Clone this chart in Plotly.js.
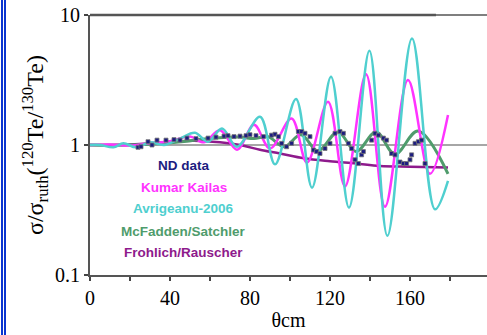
<!DOCTYPE html>
<html>
<head>
<meta charset="utf-8">
<script src="https://cdn.plot.ly/plotly-3.0.1.min.js"></script>
<style>
html,body{margin:0;padding:0;background:#fff;}
#wrap{position:relative;width:487px;height:335px;overflow:hidden;}
#chart{position:absolute;left:0;top:0;width:487px;height:335px;}
.bl{position:absolute;top:0;width:2px;height:335px;background:#0a35d0;}
</style>
</head>
<body>
<div id="wrap">
<div id="chart"></div>
<div class="bl" style="left:1px"></div>
<div class="bl" style="left:4px"></div>
</div>
<script>
// Avrigeanu-2006
const avrX = [0,5,11.7,16.7,23,30,37,45,52.5,59,66,73.5,85,92.5,103,111,120.5,129.5,139.7,148.7,161,172.5,179];
const avrY = [1.0,1.0,0.96,1.03,0.96,1.05,1.0,1.12,1.24,1.06,1.34,0.97,1.65,0.71,2.26,0.47,3.35,0.33,5.3,0.2,6.6,0.32,0.53];
// Kumar Kailas
const kumX = [0,10,20,30,40,50,57,65,73.5,82,90,100.8,108.5,119,127.5,138,147.5,159,170,179];
const kumY = [1.0,1.01,0.99,1.03,1.07,1.16,1.05,1.30,0.92,1.43,0.94,1.6,0.73,2.15,0.48,3.5,0.335,3.16,0.6,1.7];
// McFadden/Satchler
const mcfX = [0,20,40,60,75,82,89,97,105.5,114,124,133,143,152.5,164,179];
const mcfY = [1.0,1.0,1.04,1.12,1.15,1.12,1.16,0.97,1.2,0.9,1.26,0.89,1.26,0.85,1.28,0.6];
// Frohlich/Rauscher
const froX = [0,10,20,30,40,52,65,75,85,95,107,120,133,145,160,179];
const froY = [1.0,1.0,1.01,1.03,1.06,1.08,1.05,1.0,0.92,0.86,0.79,0.75,0.72,0.69,0.68,0.67];
// ND data
const ndX = [24,25.5,29,31,33.5,38,42,45,48.5,53,59,63,67,69,72,75,78,80,83,86.7,90.8,92.5,94.2,95.8,98.3,100.8,104.2,105.8,107.5,110,111.7,113.3,115,117.5,120,122.5,125,126.7,129.2,130.8,132.5,134.2,135.8,136.7,140.8,142.5,144.2,146.7,148.3,150.8,152.5,155,156.7,158.3,160,160.8,162.5,164.2,165.8,167.5];
const ndY = [0.96,0.97,1.06,1.0,1.09,1.09,1.1,1.09,1.13,1.12,1.13,1.15,1.17,1.18,1.16,1.17,1.18,1.2,1.18,1.16,1.19,1.21,1.16,1.03,0.97,1.03,1.27,1.27,1.23,1.16,0.915,0.89,0.86,0.94,1.03,1.23,1.27,1.23,1.03,0.94,0.77,0.72,0.84,0.89,1.09,1.23,1.19,1.13,1.09,0.86,0.84,0.74,0.72,0.72,0.77,0.84,1.03,1.06,1.09,0.72];

const seriesNames = ["ND data","Kumar Kailas","Avrigeanu-2006","McFadden/Satchler","Frohlich/Rauscher"];
const seriesColors = ["#1c1c80","#ff33ff","#4fcfcf","#4f9c6c","#8e1a8c"];

const xTickVals = [0,40,80,120,160];
const xTickText = ["0","40","80","120","160"];
const yTickVals = [0.1,1,10];
const yTickText = ["0.1","1","10"];
const yTitle = 'σ/σ<sub>ruth</sub>(<sup>120</sup>Te/<sup>130</sup>Te)';
const xTitle = 'θcm';

const serif = "Liberation Serif, Times New Roman, serif";

const traces = [
  {x: froX, y: froY, name: seriesNames[4], mode:'lines', line:{color:seriesColors[4], width:2.5, shape:'spline'}},
  {x: mcfX, y: mcfY, name: seriesNames[3], mode:'lines', line:{color:seriesColors[3], width:3, shape:'spline'}},
  {x: kumX, y: kumY, name: seriesNames[1], mode:'lines', line:{color:seriesColors[1], width:2.5, shape:'spline'}},
  {x: avrX, y: avrY, name: seriesNames[2], mode:'lines', line:{color:seriesColors[2], width:2.5, shape:'spline'}},
  {x: ndX, y: ndY, name: seriesNames[0], mode:'markers', marker:{symbol:'square', size:4, color:seriesColors[0], line:{color:'#777', width:0.8}}}
];

const legendY = [0.423,0.338,0.254,0.169,0.085];
const annotations = seriesNames.map((n,i)=>({
  text: n, xref:'paper', yref:'paper', x:0.236, y:legendY[i], xanchor:'center', yanchor:'middle',
  showarrow:false, font:{family:'Liberation Sans, Arial, sans-serif', size:13.5, color:seriesColors[i], weight:'bold'}
}));
annotations.push({
  text: yTitle, xref:'paper', yref:'paper', x:(35-90)/397, y:0.5, xanchor:'center', yanchor:'middle',
  textangle:-90, showarrow:false, font:{family:serif, size:24, color:'#000'}
});

const layout = {
  width:487, height:335,
  margin:{l:90, r:0, t:15, b:60},
  paper_bgcolor:'#fff', plot_bgcolor:'#fff',
  showlegend:false,
  xaxis:{
    range:[0,198.5], tickvals:xTickVals, ticktext:xTickText,
    ticks:'outside', ticklen:4, tickwidth:1.5, tickcolor:'#444',
    minor:{dtick:20, tick0:0, ticks:'outside', ticklen:4, tickwidth:1.5, tickcolor:'#444', showgrid:false},
    showline:true, linecolor:'#555', linewidth:2, showgrid:false, zeroline:false,
    tickfont:{family:serif, size:20, color:'#000'},
    title:{text:xTitle, font:{family:serif, size:20, color:'#000'}, standoff:5}
  },
  yaxis:{
    type:'log', range:[-1,1], tickvals:yTickVals, ticktext:yTickText,
    ticks:'outside', ticklen:4, tickwidth:1.5, tickcolor:'#444',
    showline:true, linecolor:'#555', linewidth:2, showgrid:false, zeroline:false,
    tickfont:{family:serif, size:20, color:'#000'}
  },
  shapes:[
    {type:'line', xref:'paper', yref:'y', x0:0, x1:1, y0:1, y1:1, line:{color:'#888', width:1.5}, layer:'below'},
    {type:'line', xref:'paper', yref:'paper', x0:0, x1:0.8715, y0:1, y1:1, line:{color:'#555', width:2.5}},
    {type:'line', xref:'paper', yref:'paper', x0:0.8715, x1:1, y0:1, y1:1, line:{color:'#555', width:1.5}}
  ],
  annotations: annotations
};

Plotly.newPlot('chart', traces, layout, {displayModeBar:false, staticPlot:true});
</script>
</body>
</html>
